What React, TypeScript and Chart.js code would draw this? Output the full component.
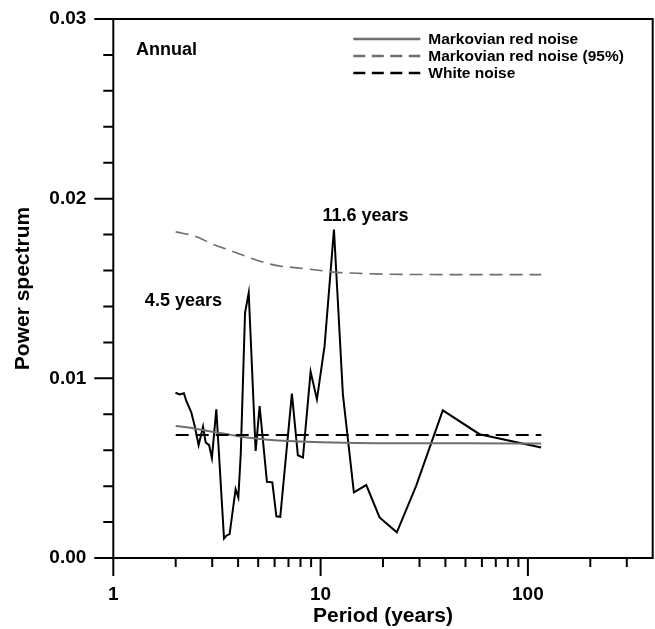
import { useEffect, useRef } from "react";
import { Chart, registerables } from "chart.js";

Chart.register(...registerables);

const FONT = '"Liberation Sans", Arial, Helvetica, sans-serif';

// Power spectrum of the annual series (period in years)
const spectrumPeriod = [
  1.995, 2.09, 2.19, 2.25, 2.38, 2.47, 2.58, 2.71, 2.79, 2.9, 2.99, 3.14, 3.42, 3.51, 3.64,
  3.89, 4.01, 4.12, 4.32, 4.5, 4.86, 5.08, 5.51, 5.85, 6.12, 6.39, 7.27, 7.77, 8.22, 8.95,
  9.6, 10.45, 11.6, 12.81, 14.47, 16.61, 19.25, 23.32, 28.9, 38.86, 58.4, 115.8,
];
const spectrumPower = [
  0.0092, 0.0091, 0.00917, 0.00874, 0.00809, 0.00735, 0.00628, 0.00732, 0.00643, 0.00628,
  0.00556, 0.00828, 0.00109, 0.00124, 0.00133, 0.00383, 0.00337, 0.0058, 0.01365, 0.01476,
  0.00596, 0.00846, 0.00424, 0.00421, 0.00232, 0.00229, 0.00915, 0.00572, 0.00559, 0.01037,
  0.00883, 0.01179, 0.01828, 0.00911, 0.00365, 0.00406, 0.00226, 0.00143, 0.00402, 0.00822,
  0.00689, 0.00615,
];

// Markovian red-noise background
const redNoisePeriod = [2, 2.5, 3, 3.5, 4, 5, 6, 8, 10, 15, 20, 30, 50, 116];
const redNoisePower = [
  0.00735, 0.0072, 0.00703, 0.0069, 0.00678, 0.00664, 0.00655, 0.00648, 0.00644, 0.0064,
  0.00639, 0.00638, 0.00638, 0.00637,
];

// 95% confidence level of the red-noise background
const redNoise95Period = [2, 2.5, 3, 3.5, 4, 5, 6, 8, 10, 12, 15, 20, 30, 50, 116];
const redNoise95Power = [
  0.01815, 0.0179, 0.01748, 0.0172, 0.01695, 0.01655, 0.0163, 0.01613, 0.016, 0.0159,
  0.01585, 0.0158, 0.01578, 0.01577, 0.01577,
];

// White-noise level
const whiteNoisePeriod = [2, 116];
const whiteNoisePower = [0.00685, 0.00685];

const xLabelTicks = [1, 10, 100];
const yLabelTicks = [0, 0.01, 0.02, 0.03];
const legendLabels = ["Markovian red noise", "Markovian red noise (95%)", "White noise"];

const GRAY = "#6e6e6e";

const toPoints = (xs: number[], ys: number[]) => xs.map((x, i) => ({ x, y: ys[i] }));

// Text notes placed in data coordinates (period, power)
const notes = [
  { text: "Annual", period: 1.286, power: 0.02797 },
  { text: "4.5 years", period: 1.42, power: 0.0140 },
  { text: "11.6 years", period: 10.2, power: 0.01874 },
];

const framePlugin = {
  id: "frameAndTicks",
  afterDraw(chart: any) {
    const { ctx, chartArea: a, scales } = chart;
    const xs = scales.x;
    const ys = scales.y;
    ctx.save();
    ctx.strokeStyle = "#000";
    ctx.lineWidth = 2;
    ctx.lineCap = "butt";
    ctx.beginPath();
    ctx.rect(a.left, a.top, a.right - a.left, a.bottom - a.top);
    // y ticks: every 0.002, longer at each 0.01
    for (let i = 0; i <= 15; i++) {
      const v = i * 0.002;
      const py = ys.getPixelForValue(v);
      const len = i % 5 === 0 ? 19 : 10;
      ctx.moveTo(a.left - len, py);
      ctx.lineTo(a.left, py);
    }
    // x ticks: logarithmic, longer at each decade
    for (const d of [1, 10, 100]) {
      for (let m = 1; m <= 9; m++) {
        const v = m * d;
        if (v > 300) break;
        const px = xs.getPixelForValue(v);
        const len = m === 1 ? 18 : 9;
        ctx.moveTo(px, a.bottom);
        ctx.lineTo(px, a.bottom + len);
      }
    }
    ctx.stroke();

    // notes
    ctx.fillStyle = "#000";
    ctx.font = `bold 18px ${FONT}`;
    ctx.textAlign = "left";
    ctx.textBaseline = "alphabetic";
    for (const n of notes) {
      ctx.fillText(n.text, xs.getPixelForValue(n.period), ys.getPixelForValue(n.power));
    }

    // legend
    const styles = [
      { color: GRAY, dash: [] as number[] },
      { color: GRAY, dash: [12, 6.5] },
      { color: "#000", dash: [12, 6.5] },
    ];
    ctx.font = `bold 15.5px ${FONT}`;
    ctx.textBaseline = "middle";
    legendLabels.forEach((label, i) => {
      const cy = a.top + 20 + i * 17;
      ctx.beginPath();
      ctx.strokeStyle = styles[i].color;
      ctx.lineWidth = 2.5;
      ctx.setLineDash(styles[i].dash);
      ctx.moveTo(a.left + 240, cy);
      ctx.lineTo(a.left + 307, cy);
      ctx.stroke();
      ctx.setLineDash([]);
      ctx.fillStyle = "#000";
      ctx.fillText(label, a.left + 315, cy + 1);
    });
    ctx.restore();
  },
};

export default function App() {
  const canvasRef = useRef<HTMLCanvasElement | null>(null);

  useEffect(() => {
    const canvas = canvasRef.current;
    if (!canvas) return;
    const chart = new Chart(canvas, {
      type: "line",
      data: {
        datasets: [
          {
            label: legendLabels[1],
            data: toPoints(redNoise95Period, redNoise95Power),
            borderColor: GRAY,
            borderWidth: 1.6,
            borderDash: [13, 7],
            pointRadius: 0,
            cubicInterpolationMode: "monotone",
          },
          {
            label: legendLabels[2],
            data: toPoints(whiteNoisePeriod, whiteNoisePower),
            borderColor: "#000",
            borderWidth: 2,
            borderDash: [13, 7],
            pointRadius: 0,
          },
          {
            label: legendLabels[0],
            data: toPoints(redNoisePeriod, redNoisePower),
            borderColor: GRAY,
            borderWidth: 2,
            pointRadius: 0,
            cubicInterpolationMode: "monotone",
          },
          {
            label: "Power spectrum",
            data: toPoints(spectrumPeriod, spectrumPower),
            borderColor: "#000",
            borderWidth: 2,
            pointRadius: 0,
            tension: 0,
          },
        ],
      },
      options: {
        animation: false,
        responsive: false,
        devicePixelRatio: 1,
        layout: { padding: { top: 19, right: 2.3, left: 0, bottom: 0 } },
        plugins: { legend: { display: false }, tooltip: { enabled: false } },
        scales: {
          x: {
            type: "logarithmic",
            min: 1,
            max: 400,
            afterFit: (s: any) => {
              s.height = 71;
              s.paddingLeft = 0;
              s.paddingRight = 0;
            },
            grid: { display: false, drawTicks: false },
            border: { display: false },
            ticks: {
              autoSkip: false,
              maxRotation: 0,
              padding: 25,
              color: "#000",
              font: { family: FONT, size: 19, weight: "bold" },
              callback: (v: any) => (xLabelTicks.includes(Number(v)) ? String(v) : ""),
            },
            title: {
              display: true,
              text: "Period (years)",
              color: "#000",
              font: { family: FONT, size: 21, weight: "bold", lineHeight: 1.2 },
              padding: { top: 0, bottom: 0 },
            },
          },
          y: {
            type: "linear",
            min: 0,
            max: 0.03,
            afterFit: (s: any) => {
              s.width = 113.3;
              s.paddingTop = 0;
              s.paddingBottom = 0;
            },
            grid: { display: false, drawTicks: false },
            border: { display: false },
            ticks: {
              stepSize: 0.002,
              autoSkip: false,
              padding: 27,
              color: "#000",
              font: { family: FONT, size: 19, weight: "bold" },
              callback: (v: any) => {
                const n = Number(v);
                return yLabelTicks.some((t) => Math.abs(t - n) < 1e-9) ? n.toFixed(2) : "";
              },
            },
            title: {
              display: true,
              text: "Power spectrum",
              color: "#000",
              font: { family: FONT, size: 21, weight: "bold", lineHeight: 1.2 },
              padding: { top: 11, bottom: 0 },
            },
          },
        },
      },
      plugins: [framePlugin],
    });
    return () => chart.destroy();
  }, []);

  return (
    <div style={{ position: "absolute", left: 0, top: 0, width: 655, height: 629, background: "#fff" }}>
      <canvas ref={canvasRef} width={655} height={629} style={{ display: "block" }} />
    </div>
  );
}
